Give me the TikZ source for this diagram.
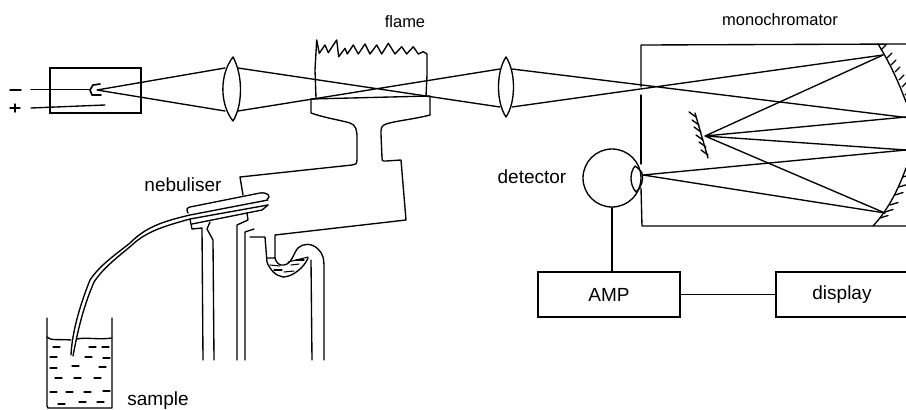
\documentclass[tikz,border=0pt]{standalone}
\usepackage{fontspec}
\setmainfont{Liberation Sans}
\tikzset{
  ln/.style={line width=1.35pt,line join=round,line cap=round,black},
  thin ln/.style={line width=1.05pt,line join=round,line cap=round,black},
  lbl/.style={font=\fontsize{19}{21}\selectfont,inner sep=0pt,black},
  smlbl/.style={font=\fontsize{16.5}{18}\selectfont,inner sep=0pt,black},
  unitbox/.style={draw,line width=1.35pt,inner sep=0pt,minimum width=142pt,minimum height=45pt,font=\fontsize{19}{21}\selectfont},
  dashmark/.style={line width=1.1pt,line cap=round,black}
}
\begin{document}
\begin{tikzpicture}[x=1pt,y=-1pt]
\useasboundingbox (0,0) rectangle (906,410);
\clip (0,0) rectangle (906,410);

% labels
\node[smlbl] (tflame) at (405,22) {flame};
\node[smlbl] (tmono) at (780,20) {monochromator};
\node[lbl] (tneb) at (183,185) {nebuliser};
\node[lbl] (tdet) at (532,177) {detector};
\node[lbl] (tsam) at (158,400.5) {sample};

% source
\node[draw,line width=1.35pt,inner sep=0pt,minimum width=91pt,minimum height=45pt] (source) at (95.5,90.5) {};
\draw[ln] (10,90) -- (21,90);
\draw[ln] (10,108) -- (20,108) (15,104) -- (15,112);
\draw[ln] (31,89.5) -- (89,89.5);
\draw[ln] (31,108) -- (105,105);
\draw[ln,line width=1.7pt] (100,84) -- (93,85) -- (90,90) -- (92,95) -- (101,95);
\coordinate (focus) at (97,90);

% lenses
\coordinate (L1ti) at (225,68); \coordinate (L1bi) at (225,111);
\coordinate (L1to) at (238,68); \coordinate (L1bo) at (238,111);
\coordinate (L2ti) at (500,69); \coordinate (L2bi) at (500,107);
\coordinate (L2to) at (512,69); \coordinate (L2bo) at (512,107);
\draw[ln] (233,57) .. controls (219,75) and (220,105) .. (233,121) .. controls (243,105) and (243,75) .. (233,57);
\draw[ln] (506,57) .. controls (496,72) and (496,102) .. (506,117) .. controls (516,102) and (516,72) .. (506,57);

% flame and burner
\draw[ln] (316,98) -- (315,70) -- (316.7,40) -- (319.3,53.3) -- (325,45) -- (328.3,52.7) -- (333.3,45) -- (336.7,40) -- (338.7,56.7) -- (345,48.3) -- (347.3,54) -- (353.3,45) -- (358.3,54) -- (365,44) -- (370,54) -- (376.7,45) -- (381.7,54) -- (388.3,43.3) -- (395,54) -- (401.7,46.7) -- (406.7,54) -- (413.3,46.7) -- (418.3,54) -- (423.3,51.7) -- (427,54) -- (427,75) -- (426,96);
\draw[ln] (311,99) -- (430,96) -- (430,115) .. controls (415,119) and (395,121) .. (386,124) .. controls (381,126) and (381,128) .. (381,134) -- (382,158) .. controls (382,162) and (384,161) .. (386,161) -- (401,160) -- (406,220) -- (275,235) -- (275,258);
\draw[ln] (311,99) -- (311,113) .. controls (325,118) and (340,120) .. (350,123) .. controls (356,125) and (357,130) .. (357,138) -- (357,160) .. controls (357,164) and (355,165) .. (352,165) -- (240,177) -- (243,195);

% nebuliser and chamber
\draw[ln] (188,213) .. controls (186,209) and (187,208) .. (190,207) -- (260,193) .. controls (267,192) and (272,196) .. (267,199.5);
\draw[ln] (192,224) -- (262,210) -- (268,205);
\draw[ln] (190,219) -- (192,229) -- (202,228) -- (203,360);
\draw[ln] (214,360) -- (213,240) -- (207,229) -- (210,222);
\draw[ln] (237,360) -- (237,225) -- (248,220) -- (247,213);
\draw[ln] (245,360) -- (245,232) -- (254,229);
\draw[ln] (250,237) -- (265,237) -- (267,262) .. controls (270,270) and (276,276) .. (283,277) .. controls (292,277) and (304,268) .. (308,258);
\draw[ln] (275,258) .. controls (276,263) and (280,266) .. (284,265) .. controls (292,264) and (294,252) .. (298,248) .. controls (303,243) and (312,243) .. (318,249) .. controls (323,254) and (324,258) .. (324,268) -- (324,360);
\draw[ln] (311,260) -- (312,360);
\draw[thin ln] (267,258) -- (275,258) (288,262) -- (308,257);
\foreach \xa/\ya/\xb/\yb in {270/265/280/266,274/270/282/270,284/272/294/271,291/265/299/264,296/260/304/260}
  \draw[thin ln] (\xa,\ya) -- (\xb,\yb);

% tube
\draw[ln] (71,355) .. controls (72,335) and (78,310) .. (90,280) .. controls (100,265) and (115,255) .. (130,243) .. controls (145,228) and (160,222) .. (190,215) -- (268,200);
\draw[ln] (73,356) .. controls (77,335) and (82,310) .. (94,282) .. controls (104,267) and (118,257) .. (132,245) .. controls (147,231) and (165,226) .. (190,219) -- (268,205);

% beaker
\draw[ln] (47,318) -- (47,406) -- (48,408) -- (112,408) -- (112,318);
\draw[ln] (47,337) .. controls (50,341) and (60,339) .. (71,340);
\draw[ln] (77,339) .. controls (85,337) and (100,340) .. (112,338);
\foreach \xa/\ya in {53/347,89/347,102/347,50/357,85/357,103/358,50/368,72/366,99/367,55/378,74/378,94/378,50/392,66/392,84/392,103/391,58/404,79/402,97/402}
  \draw[dashmark] (\xa,\ya) -- ++(7,0);

% rays
\coordinate (Mt) at (883,55); \coordinate (Mi) at (705,136);
\coordinate (Mb) at (885,213); \coordinate (Eye) at (643,175);
\draw[ln] (focus) -- (L1ti) (focus) -- (L1bi);
\draw[ln] (L1to) -- (L2bi) (L1bo) -- (L2ti);
\draw[ln] (L2to) -- (906,117.5) (L2bo) -- (Mt);
\draw[ln] (Mt) -- (Mi) -- (906,117) (Mi) -- (906,150) (Mi) -- (Mb);

% monochromator
\draw[ln] (906,44) -- (641,45) -- (641,87);
\draw[ln] (641,95) -- (641,164);
\draw[ln] (641,188) -- (642,226) -- (906,226);
\draw[ln] (878,44) .. controls (888,60) and (897,78) .. (906,102);
\draw[ln] (906,168) .. controls (898,190) and (888,210) .. (873,226);
\foreach \x/\y in {881/50,887/58,891/65,895/72,899/80,902/87,905/95}
  \draw[ln] (\x,\y) -- ++(5,-5);
\foreach \x/\y in {903/177,899/187,895/195,890/205,885/212,880/218}
  \draw[ln] (\x,\y) -- ++(8,-2.5);
\draw[ln] (695,113) -- (708,158);
\foreach \x/\y in {696/117,699/125,701/132,703/140,706/147,708/155}
  \draw[ln] (\x,\y) -- ++(-7,-5);

% detector
\node[draw,circle,line width=1.35pt,inner sep=0pt,minimum size=58pt,fill=white] (eye) at (612,178) {};
\draw[ln] (635,166) .. controls (630,172) and (629,184) .. (636,192) .. controls (641,188) and (644,180) .. (642,173) .. controls (641,171) and (638,168) .. (635,166);
\draw[ln] (Eye) -- (906,150) (Eye) -- (Mb);

% electronics
\node[unitbox] (amp) at (609,294.5) {AMP};
\node[unitbox,minimum width=132pt] (disp) at (842,294.5) {display};
\draw[ln] (eye.south) -- (eye.south |- amp.north);
\draw[ln] (amp.east) -- (disp.west);
\end{tikzpicture}
\end{document}
